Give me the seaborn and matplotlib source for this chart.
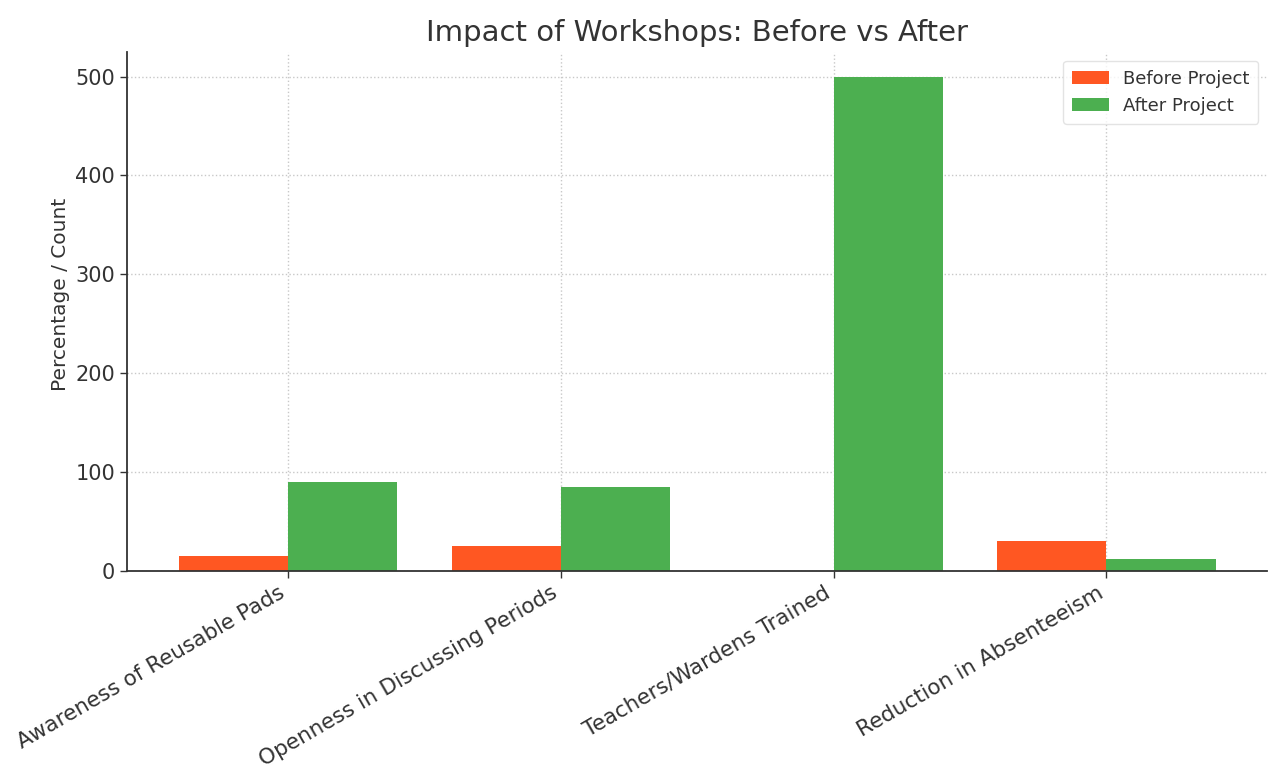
import matplotlib
matplotlib.use("Agg")
import matplotlib.pyplot as plt
import pandas as pd
import seaborn as sns

categories = [
    "Awareness of Reusable Pads",
    "Openness in Discussing Periods",
    "Teachers/Wardens Trained",
    "Reduction in Absenteeism",
]
before_project = [15, 25, 0, 30]
after_project = [90, 85, 500, 12]
series_names = ["Before Project", "After Project"]
series_colors = ["#FF5722", "#4CAF50"]
y_ticks = [0, 100, 200, 300, 400, 500]

df = pd.DataFrame({
    "Metric": categories * 2,
    "Value": before_project + after_project,
    "Stage": [series_names[0]] * len(categories) + [series_names[1]] * len(categories),
})

sns.set_theme(style="whitegrid")
plt.rcParams["font.family"] = ["DejaVu Sans"]
text_color = "#333333"

fig = plt.figure(figsize=(12.7, 7.68), dpi=100)
ax = fig.add_axes([0.1, 0.2565, 0.898, 0.676])

sns.barplot(
    data=df, x="Metric", y="Value", hue="Stage",
    hue_order=series_names, palette=series_colors,
    width=0.8, saturation=1.0, ax=ax, native_scale=False,
    edgecolor="none", linewidth=0,
)

ax.set_xlim(-0.59, 3.59)
ax.set_ylim(0, 525)
ax.set_yticks(y_ticks)
ax.grid(True, linestyle=":", color="#c8c8c8", linewidth=1.0)
ax.set_axisbelow(True)

for side in ["top", "right"]:
    ax.spines[side].set_visible(False)
for side in ["left", "bottom"]:
    ax.spines[side].set_color("#333333")
    ax.spines[side].set_linewidth(1.3)

ax.tick_params(axis="both", which="major", length=5, width=1, color="#333333",
               labelcolor=text_color, direction="out", left=True, bottom=True)
ax.tick_params(axis="y", labelsize=15)
ax.tick_params(axis="x", labelsize=15.5)
plt.setp(ax.get_xticklabels(), rotation=30, ha="right", rotation_mode="default")

ax.set_xlabel("")
ax.set_ylabel("Percentage / Count", fontsize=14.5, color=text_color)
ax.yaxis.set_label_coords(-0.05, 0.532)
ax.set_title("Impact of Workshops: Before vs After", fontsize=21, color=text_color, pad=8)

leg = ax.legend(loc="upper right", fontsize=13, frameon=True, title=None,
                handlelength=2.0, borderpad=0.5)
leg.get_frame().set_edgecolor("#dddddd")
for t in leg.get_texts():
    t.set_color(text_color)

fig.savefig("out.png", dpi=100)
